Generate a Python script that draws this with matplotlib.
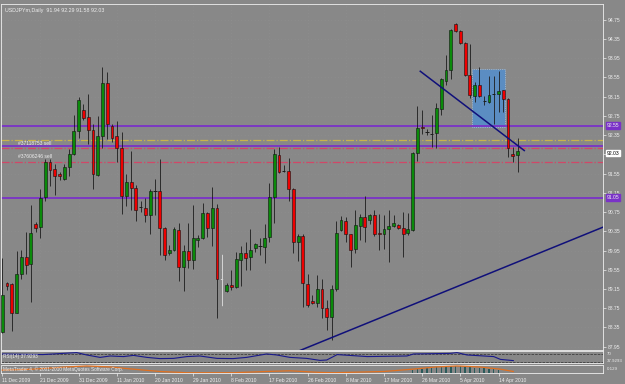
import numpy as np
import matplotlib
matplotlib.use('Agg')
import matplotlib.pyplot as plt
from matplotlib.patches import Rectangle

plt.rcParams['font.family'] = ['Liberation Sans', 'DejaVu Sans']

# USDJPYm daily candles, one per bar
opens = [88.26, 89.28, 89.25, 88.66, 89.47, 89.82, 89.67, 90.51, 90.43, 91.06,
         91.80, 91.64, 91.55, 91.44, 91.69, 91.96, 92.43, 92.88, 92.72, 92.46,
         91.53, 92.34, 93.43, 92.55, 92.34, 92.09, 91.09, 91.37, 91.25, 90.86,
         90.84, 90.68, 91.19, 91.18, 90.41, 89.90, 89.97, 90.37, 89.61, 89.94,
         89.76, 90.17, 90.22, 90.74, 90.41, 90.84, 89.35, 89.11, 89.23, 89.20,
         89.76, 89.89, 89.81, 90.00, 90.04, 90.03, 90.23, 91.06, 91.94, 91.60,
         91.60, 91.23, 90.13, 90.25, 89.25, 88.90, 88.85, 89.14, 88.75, 88.57,
         89.14, 90.37, 90.57, 90.29, 89.98, 90.46, 90.64, 90.58, 90.68, 90.32,
         90.29, 90.39, 90.46, 90.48, 90.41, 90.32, 90.37, 91.98, 92.53, 92.41,
         92.38, 92.40, 92.90, 93.48, 93.71, 94.66, 94.52, 94.27, 93.60, 93.17,
         93.40, 93.07, 93.05, 93.20, 93.20, 93.28, 93.11, 91.96, 91.94]
highs = [89.79, 89.30, 89.27, 89.94, 89.96, 90.34, 90.90, 90.54, 91.24, 91.86,
         91.86, 91.76, 91.58, 91.74, 92.07, 92.76, 93.14, 93.00, 93.21, 92.59,
         92.74, 93.76, 93.66, 92.59, 92.64, 92.41, 91.55, 92.03, 91.31, 90.98,
         91.05, 91.24, 91.44, 91.86, 90.43, 90.06, 90.44, 90.52, 90.06, 90.52,
         90.89, 90.27, 90.93, 90.75, 91.27, 90.91, 89.87, 89.28, 89.54, 89.92,
         90.04, 90.13, 90.39, 90.11, 90.20, 90.50, 91.35, 92.07, 92.11, 91.72,
         91.88, 91.25, 90.29, 90.29, 89.47, 89.02, 89.45, 89.35, 88.93, 89.23,
         90.56, 90.66, 90.65, 90.30, 90.80, 90.70, 91.08, 90.70, 90.79, 90.72,
         90.68, 90.79, 90.68, 90.51, 90.75, 90.74, 92.01, 92.95, 92.88, 92.48,
         92.76, 93.02, 93.53, 94.02, 94.56, 94.68, 94.54, 94.28, 94.25, 93.45,
         93.76, 93.17, 93.59, 93.59, 93.69, 93.30, 93.12, 92.10, 92.29]
lows = [88.24, 89.13, 88.28, 88.64, 89.35, 89.47, 88.88, 90.34, 90.22, 90.99,
        91.29, 91.10, 91.41, 91.41, 91.49, 91.94, 92.30, 92.67, 92.17, 91.24,
        91.51, 92.09, 92.27, 92.20, 91.79, 90.70, 90.87, 90.80, 90.57, 90.75,
        90.54, 90.29, 90.68, 89.85, 89.76, 89.85, 89.94, 89.32, 89.11, 89.58,
        89.56, 90.03, 90.18, 90.23, 90.04, 88.54, 88.79, 89.09, 89.13, 89.16,
        89.21, 89.54, 89.54, 89.92, 89.85, 89.68, 90.13, 90.52, 91.56, 91.58,
        90.99, 89.89, 89.74, 88.78, 88.77, 88.83, 88.77, 88.54, 88.30, 88.09,
        89.11, 90.36, 90.13, 89.60, 89.90, 90.16, 90.13, 90.50, 90.25, 89.96,
        89.99, 89.71, 90.44, 90.39, 89.81, 90.28, 90.35, 91.82, 92.38, 92.36,
        92.10, 92.08, 92.77, 93.40, 93.52, 94.50, 94.25, 93.59, 93.12, 93.05,
        93.14, 92.97, 93.02, 92.59, 92.83, 92.84, 91.89, 91.80, 91.58]
closes = [89.02, 89.22, 88.66, 89.47, 89.82, 89.65, 90.32, 90.41, 91.05, 91.80,
          91.62, 91.49, 91.51, 91.69, 91.96, 92.43, 93.08, 92.71, 92.46, 91.55,
          92.34, 93.43, 92.59, 92.30, 92.09, 91.08, 91.38, 91.26, 90.80, 90.86,
          90.68, 91.18, 91.19, 90.41, 89.85, 89.97, 90.39, 89.61, 89.94, 89.76,
          90.22, 90.22, 90.74, 90.41, 90.84, 89.35, 89.35, 89.23, 89.20, 89.78,
          89.89, 89.79, 89.97, 90.08, 90.04, 90.22, 91.06, 91.95, 91.58, 91.60,
          91.24, 90.13, 90.25, 89.27, 88.82, 88.85, 89.14, 88.75, 88.57, 89.14,
          90.32, 90.59, 90.29, 89.97, 90.48, 90.64, 90.44, 90.68, 90.30, 90.29,
          90.39, 90.46, 90.52, 90.41, 90.30, 90.39, 91.98, 92.49, 92.49, 92.41,
          92.38, 92.91, 93.51, 93.71, 94.54, 94.52, 94.27, 93.60, 93.19, 93.40,
          93.16, 93.07, 93.19, 93.20, 93.26, 93.11, 92.08, 91.91, 92.03]

date_labels = ['11 Dec 2009', '21 Dec 2009', '31 Dec 2009', '11 Jan 2010', '20 Jan 2010',
               '29 Jan 2010', '8 Feb 2010', '17 Feb 2010', '26 Feb 2010', '8 Mar 2010',
               '17 Mar 2010', '26 Mar 2010', '5 Apr 2010', '14 Apr 2010']
price_ticks = [87.95, 88.35, 88.75, 89.15, 89.55, 89.95, 90.35, 90.75, 91.15, 91.55,
               91.95, 92.35, 92.75, 93.15, 93.55, 93.95, 94.35, 94.75]

level_lines = [92.55, 92.12, 91.05]
order_prices = [92.08, 91.80]
order_names = ['#37118753 sell', '#37606246 sell']
yellow_level = 92.25
trend_a = ([87.6, 109.4], [93.68, 92.03])
trend_b = ([62.4, 126.0], [87.87, 90.44])
box_bars = [98.5, 105.4]
box_prices = [92.53, 93.73]

# indicator window 1 (RSI) - bar, value
rsi_bars = [0, 8.5, 15.6, 17.7, 20.5, 22.6, 25.4, 27.5, 30.3, 33, 35.9, 38.7, 41.4, 45,
            48.4, 51.2, 55.4, 57.5, 60.3, 63.8, 66.6, 68, 70.2, 76.5, 84.8, 86.2, 93.9,
            95.3, 97.4, 103, 104.4, 107.1]
rsi_vals = [70, 67, 77, 65, 53, 60, 57, 63, 53, 47, 48, 57, 60, 48,
            47, 53, 70, 65, 53, 48, 38, 40, 67, 57, 60, 70, 73,
            77, 65, 57, 43, 37]
# indicator window 2 (signal line + histogram)
sig_bars = [0, 6.5, 13.5, 17.7, 22.6, 27.5, 33, 38.7, 48.4, 55.4, 60.3, 66.6, 69.5, 80,
            86, 90.9, 95.3, 100, 104.4, 107.1]
sig_vals = [2.7, 3.7, 6.0, 7.0, 6.0, 3.7, 1.3, 0, 0, 1.3, 2.0, 0.3, 0, 1.3,
            3.7, 6.0, 7.0, 6.0, 3.7, 1.3]
hist_bars = list(range(86, 105))
hist_vals = [2.5, 3.5, 4.3, 4.8, 5.2, 5.6, 6.0, 6.3, 6.5, 6.6, 6.5, 6.2, 5.8, 5.4,
             5.0, 4.6, 4.0, 3.5, 3.0]

bg = '#888888'
fg = '#eeeeee'
xlim = (-0.27, 125.9)

fig = plt.figure(figsize=(6.25, 3.84), dpi=100, facecolor=bg)
ax = fig.add_axes([0.0016, 0.0898, 0.9632, 0.8999])
ax1 = fig.add_axes([0.0016, 0.0547, 0.9632, 0.0313])
ax2 = fig.add_axes([0.0016, 0.0286, 0.9632, 0.0208])

for a in (ax, ax1, ax2):
    a.set_facecolor(bg)
    a.set_xlim(*xlim)
    for s in a.spines.values():
        s.set_color(fg)
        s.set_linestyle((0, (1, 1)))
        s.set_linewidth(0.6)
    a.yaxis.tick_right()
    a.tick_params(axis='y', colors=fg, labelsize=3.6, length=2, width=0.5, pad=1.5)
    a.tick_params(axis='x', colors=fg, labelsize=3.6, length=2, width=0.5, pad=1.5)
    a.set_xticks([])

# main price window
ax.set_ylim(87.89, 95.08)
ax.set_yticks(price_ticks)
ax.set_yticklabels(['%.2f' % p for p in price_ticks])
for p in price_ticks:
    ax.axhline(p, color='#969696', lw=0.4, ls=(0, (1, 5)), zorder=0)
for k in range(len(date_labels)):
    ax.axvline(8 * k, color='#969696', lw=0.4, ls=(0, (1, 5)), zorder=0)

ax.add_patch(Rectangle((box_bars[0], box_prices[0]), box_bars[1] - box_bars[0],
                       box_prices[1] - box_prices[0], facecolor='#5b8dc2',
                       edgecolor='#c8d8e8', lw=0.5, ls=':', zorder=1))

for p in level_lines:
    ax.axhline(p, color='#7a32c8', lw=1.3, zorder=2)
ax.axhline(yellow_level, color='#c8b44a', lw=0.9, ls='-.', zorder=2)
for p, name in zip(order_prices, order_names):
    ax.axhline(p, color='#d04868', lw=0.9, ls='-.', zorder=2)
    ax.text(3.2, p + 0.05, name, color=fg, fontsize=3.6, va='bottom', zorder=6)

x = np.arange(len(opens))
o = np.array(opens)
c = np.array(closes)
ax.vlines(x, lows, highs, color='#1c1c1c', lw=0.6, zorder=3)
up = c > o
dn = c < o
ax.bar(x[up], (c - o)[up], bottom=o[up], width=0.6, color='#0a8a0a',
       edgecolor='#111111', lw=0.4, zorder=4)
ax.bar(x[dn], (o - c)[dn], bottom=c[dn], width=0.6, color='#ee0000',
       edgecolor='#111111', lw=0.4, zorder=4)
doji = np.where(c == o)[0]
ax.hlines(c[doji], doji - 0.35, doji + 0.35, color='#1c1c1c', lw=0.7, zorder=4)
# doji drawn in light colour on the chart
ax.vlines(46, lows[46], highs[46], color='#d8d8d8', lw=0.7, zorder=5)
ax.hlines(closes[46], 45.65, 46.35, color='#d8d8d8', lw=0.7, zorder=5)

ax.plot(*trend_a, color='#10107a', lw=1.1, zorder=5)
ax.plot(*trend_b, color='#10107a', lw=1.1, zorder=5)

ax.text(0.006, 0.988, 'USDJPYm,Daily  91.94 92.29 91.58 92.03', transform=ax.transAxes,
        color=fg, fontsize=3.8, va='top', ha='left')
# price tags on the scale
tag_kw = dict(transform=ax.get_yaxis_transform(), fontsize=3.6, ha='left', va='center')
ax.text(1.006, 92.55, '92.55', color=fg, bbox=dict(boxstyle='square,pad=0.15',
        fc='#7a32c8', ec='#7a32c8'), **tag_kw)
ax.text(1.006, 91.05, '91.05', color=fg, bbox=dict(boxstyle='square,pad=0.15',
        fc='#7a32c8', ec='#7a32c8'), **tag_kw)
tag_kw['va'] = 'top'
ax.text(1.006, 92.03, '92.03', color='black', bbox=dict(boxstyle='square,pad=0.15',
        fc='white', ec='white'), **tag_kw)

# RSI window
ax1.set_ylim(25, 85)
ax1.set_yticks([])
ax1.axhline(70, color='#303030', lw=0.5, ls='--')
ax1.axhline(30, color='#303030', lw=0.5, ls='--')
ax1.plot(rsi_bars, rsi_vals, color='#1a1a8c', lw=0.8)
ax1.text(0.004, 0.5, 'RSI(14) 37.9293', color=fg, fontsize=3.4, va='center',
         transform=ax1.transAxes)
ax1.text(1.006, 0.75, '70', color=fg, fontsize=3.2, va='center', transform=ax1.transAxes)
ax1.text(1.006, 0.2, '37.9293', color=fg, fontsize=3.2, va='center', transform=ax1.transAxes)

# second window
ax2.set_ylim(-0.3, 8)
ax2.set_yticks([])
ax2.axhline(0, color='#303030', lw=0.5, ls='--')
ax2.bar(hist_bars, hist_vals, width=0.3, color='#2a5a5a', zorder=2)
ax2.plot(sig_bars, sig_vals, color='#e07020', lw=0.9, zorder=3)
ax2.text(0.004, 0.5, 'MetaTrader 4, \u00a9 2001-2010 MetaQuotes Software Corp.', color=fg,
         fontsize=3.4, va='center', transform=ax2.transAxes)
ax2.text(1.006, 0.5, '0.129', color=fg, fontsize=3.2, va='center', transform=ax2.transAxes)
ax2.set_xticks([8 * k for k in range(len(date_labels))])
ax2.set_xticklabels(date_labels, ha='left')

fig.savefig('out.png', dpi=100, facecolor=bg)
